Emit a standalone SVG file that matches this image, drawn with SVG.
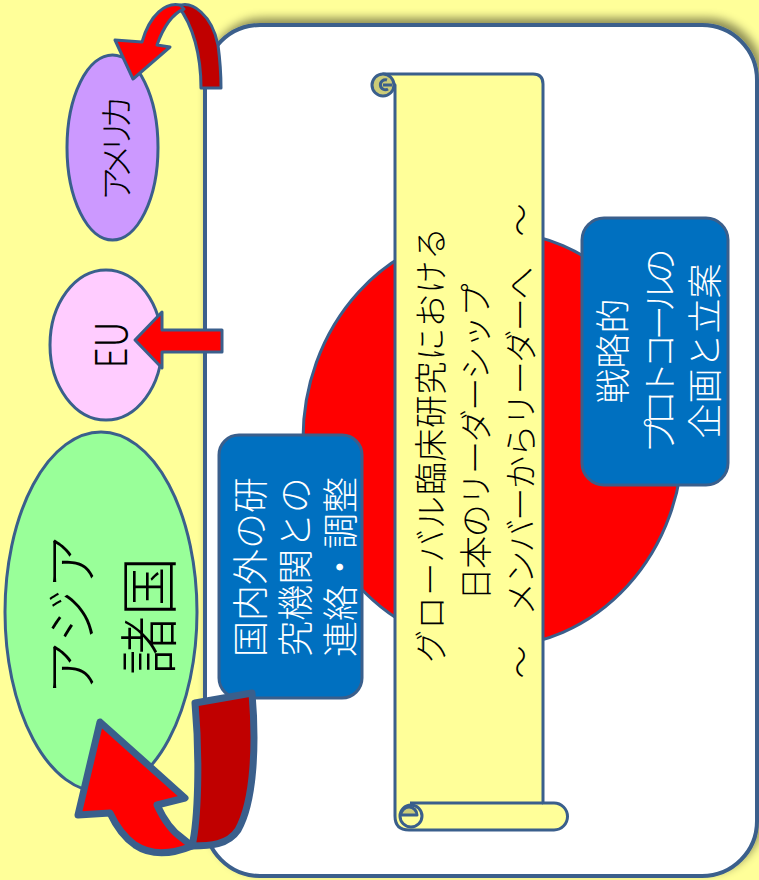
<svg xmlns="http://www.w3.org/2000/svg" width="759" height="880" viewBox="0 0 759 880">
<defs>
<style>
.ol{stroke:#3A5F8C;stroke-width:3;stroke-linejoin:round}
.jp{font-family:"Noto Sans CJK JP","Noto Sans",sans-serif;font-weight:300;text-anchor:middle;dominant-baseline:central}
.wt{fill:#FFFFFF}
.bk{fill:#000000}
</style>
<filter id="sh" x="-10%" y="-10%" width="120%" height="120%">
<feDropShadow dx="4" dy="-5" stdDeviation="5" flood-color="#000" flood-opacity="0.45"/>
</filter>
</defs>
<rect x="0" y="0" width="759" height="880" fill="#FFFF99"/>
<g id="panel">
<rect x="205" y="25" width="552" height="851" rx="55" fill="#FFFFFF" stroke="#3A5F8C" stroke-width="4" filter="url(#sh)"/>
</g>
<g id="sun">
<ellipse cx="493" cy="439" rx="190" ry="208" fill="#FF0000" class="ol"/>
</g>
<g id="scroll">
<path d="M383,74 H533 Q543,74 543,84 V803 H554 A13.5,13.5 0 0 1 554,830 H409 Q395,830 395,816 V85 Z" fill="#FFFF99" class="ol"/>
<path d="M410,803 H543" fill="none" class="ol"/>
<circle cx="383" cy="85" r="11" fill="#CCCC77" class="ol"/>
<path d="M383,85 H392 M387,80 A5,5 0 1 0 388,89" fill="none" stroke="#3A5F8C" stroke-width="3"/>
<circle cx="411" cy="816" r="11" fill="#FFFF99" class="ol"/>
<path d="M401,815 A8,8 0 0 1 417,815 Z" fill="#CCCC77" class="ol"/>
<text class="jp bk" font-size="33" textLength="436" lengthAdjust="spacing" transform="translate(429,445) rotate(-90)">グローバル臨床研究における</text>
<text class="jp bk" font-size="33" textLength="317" lengthAdjust="spacing" transform="translate(474,442) rotate(-90)">日本のリーダーシップ</text>
<text class="jp bk" font-size="33" textLength="475" lengthAdjust="spacing" transform="translate(519,441) rotate(-90)">～　メンバーからリーダーへ　～</text>
</g>
<g id="box-left">
<rect x="219" y="435" width="143" height="263" rx="20" fill="#0070C0" class="ol"/>
<text class="jp wt" font-size="36" transform="translate(248,567) rotate(-90)">国内外の研</text>
<text class="jp wt" font-size="36" transform="translate(293,567) rotate(-90)">究機関との</text>
<text class="jp wt" font-size="36" transform="translate(338,567) rotate(-90)">連絡・調整</text>
</g>
<g id="box-right">
<rect x="582" y="218" width="146" height="267" rx="22" fill="#0070C0" class="ol"/>
<text class="jp wt" font-size="35" transform="translate(610,351) rotate(-90)">戦略的</text>
<text class="jp wt" font-size="35" textLength="205" lengthAdjust="spacing" transform="translate(657,351) rotate(-90)">プロトコールの</text>
<text class="jp wt" font-size="35" transform="translate(702,351) rotate(-90)">企画と立案</text>
</g>
<g id="america">
<ellipse cx="112.5" cy="147.5" rx="45.5" ry="92.5" fill="#CC99FF" class="ol"/>
<text class="jp bk" font-size="34" textLength="106" lengthAdjust="spacing" transform="translate(114,148) rotate(-90)">アメリカ</text>
</g>
<g id="eu">
<ellipse cx="106" cy="345" rx="56" ry="75" fill="#FFCCFF" class="ol"/>
<text class="jp bk" font-size="44" textLength="47" lengthAdjust="spacingAndGlyphs" transform="translate(108,345) rotate(-90)">EU</text>
</g>
<g id="asia">
<ellipse cx="101" cy="612" rx="96" ry="180" fill="#99FF99" class="ol"/>
<text class="jp bk" font-size="54" transform="translate(68,615) rotate(-90)">アジア</text>
<text class="jp bk" font-size="59" transform="translate(145,616) rotate(-90)">諸国</text>
</g>
<g id="connectors">
<path d="M201,88 C201,55 193,25 178,6 C192,0 212,15 218,45 C220,60 221,75 221,88 Z" fill="#C00000" class="ol"/>
<path d="M180,5 C166,2 150,14 142,42 L115,40 L133,79 L170,47 L157,45 C163,28 172,14 184,9 Z" fill="#FF0000" class="ol"/>
<path d="M222,330 H162 V312 L135,340 L162,368 V352 H222 Z" fill="#FF0000" class="ol"/>
<path d="M195,703 L252,693 C256,740 255,800 238,830 C228,845 210,846 192,846 C198,820 200,760 195,703 Z" fill="#C00000" stroke="#3A5F8C" stroke-width="7" stroke-linejoin="round"/>
<path d="M192,846 C170,855 150,855 135,845 C125,838 117,828 110,813 L78,815 L100,722 L185,798 L157,805 C163,818 170,830 182,838 Z" fill="#FF0000" stroke="#3A5F8C" stroke-width="7" stroke-linejoin="round"/>
</g>
</svg>
